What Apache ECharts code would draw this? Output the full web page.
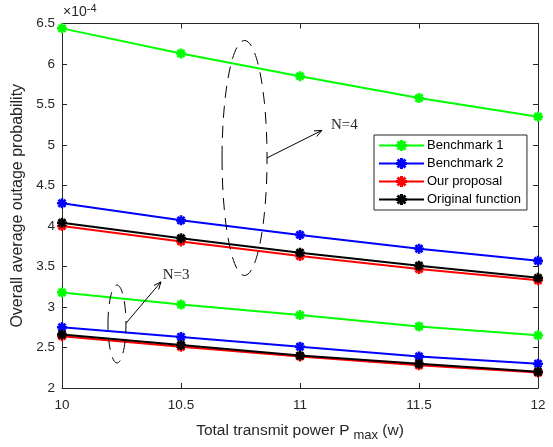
<!DOCTYPE html>
<html>
<head>
<meta charset="utf-8">
<script src="https://cdn.jsdelivr.net/npm/echarts@6/dist/echarts.min.js"></script>
<style>
  html, body { margin: 0; padding: 0; background: #fff; }
  #chart { width: 553px; height: 447px; }
</style>
</head>
<body>
<div id="chart"></div>
<script>
// Transmit power levels (W)
const powerLevels = [10, 10.5, 11, 11.5, 12];

// Outage probability, in units of 1e-4
const bench1N4   = [6.44, 6.13, 5.85, 5.58, 5.35];
const bench2N4   = [4.28, 4.07, 3.89, 3.72, 3.57];
const proposalN4 = [4.00, 3.81, 3.63, 3.47, 3.33];
const originalN4 = [4.04, 3.85, 3.67, 3.51, 3.36];

const bench1N3   = [3.18, 3.03, 2.90, 2.76, 2.65];
const bench2N3   = [2.75, 2.63, 2.51, 2.39, 2.30];
const proposalN3 = [2.64, 2.51, 2.39, 2.28, 2.19];
const originalN3 = [2.66, 2.53, 2.40, 2.30, 2.20];

const seriesNames = ['Benchmark 1', 'Benchmark 2', 'Our proposal', 'Original function'];
const seriesColors = ['#00ff00', '#0000ff', '#ff0000', '#000000'];

// Asterisk-shaped marker: four filled bars, all wound the same way
const asterisk = 'path://' +
  'M-5,-1.3L5,-1.3L5,1.3L-5,1.3Z' +
  'M-1.3,-5L1.3,-5L1.3,5L-1.3,5Z' +
  'M-4.455,-2.617L-2.617,-4.455L4.455,2.617L2.617,4.455Z' +
  'M-2.617,4.455L-4.455,2.617L2.617,-4.455L4.455,-2.617Z';

const textColor = '#262626';
const axisFont = 'Liberation Sans, Arial, Helvetica, sans-serif';
const serifFont = 'Liberation Serif, Times New Roman, serif';

function pairs(values) {
  return powerLevels.map((x, i) => [x, values[i]]);
}

function makeSeries(name, color, values) {
  return {
    name: name,
    type: 'line',
    data: pairs(values),
    symbol: asterisk,
    symbolSize: 10,
    showSymbol: true,
    lineStyle: { color: color, width: 2 },
    itemStyle: { color: color },
    emphasis: { disabled: true },
    animation: false,
    z: 3
  };
}

const groups = [
  [bench1N4, bench1N3],
  [bench2N4, bench2N3],
  [proposalN4, proposalN3],
  [originalN4, originalN3]
];

const series = [];
groups.forEach((g, k) => {
  series.push(makeSeries(seriesNames[k], seriesColors[k], g[0]));
  series.push(makeSeries(seriesNames[k], seriesColors[k], g[1]));
});

const axisLineStyle = { lineStyle: { color: textColor, width: 1 } };

const chart = echarts.init(document.getElementById('chart'), null, { renderer: 'canvas' });

chart.setOption({
  animation: false,
  backgroundColor: '#fff',
  grid: { left: 62, right: 15, top: 23.5, bottom: 53, containLabel: false },
  xAxis: [
    {
      type: 'value', min: 10, max: 12, interval: 0.5, position: 'bottom',
      axisLine: axisLineStyle,
      axisTick: { show: true, inside: true, length: 5, lineStyle: { color: textColor } },
      axisLabel: { color: textColor, fontSize: 13.5, fontFamily: axisFont, margin: 10 },
      splitLine: { show: false },
      name: 'Total transmit power P{sub|max} (w)',
      nameLocation: 'middle', nameGap: 31,
      nameTextStyle: {
        color: textColor, fontSize: 15.5, fontFamily: axisFont,
        rich: { sub: { fontSize: 13, fontFamily: axisFont, color: textColor, padding: [10, 0, 0, 4] } }
      }
    },
    {
      type: 'value', min: 10, max: 12, interval: 0.5, position: 'top',
      axisLine: axisLineStyle,
      axisTick: { show: true, inside: true, length: 5, lineStyle: { color: textColor } },
      axisLabel: { show: false }, splitLine: { show: false }
    }
  ],
  yAxis: [
    {
      type: 'value', min: 2, max: 6.5, interval: 0.5, position: 'left',
      axisLine: axisLineStyle,
      axisTick: { show: true, inside: true, length: 5, lineStyle: { color: textColor } },
      axisLabel: { color: textColor, fontSize: 13.5, fontFamily: axisFont, margin: 7 },
      splitLine: { show: false },
      name: 'Overall average outage probability',
      nameLocation: 'middle', nameGap: 34,
      nameTextStyle: { color: textColor, fontSize: 16, fontFamily: axisFont }
    },
    {
      type: 'value', min: 2, max: 6.5, interval: 0.5, position: 'right',
      axisLine: axisLineStyle,
      axisTick: { show: true, inside: true, length: 5, lineStyle: { color: textColor } },
      axisLabel: { show: false }, splitLine: { show: false }
    }
  ],
  legend: {
    data: seriesNames,
    orient: 'vertical',
    left: 374, top: 135,
    itemWidth: 45, itemHeight: 14, itemGap: 5,
    padding: [4, 6, 4, 4],
    backgroundColor: '#fff',
    borderColor: textColor, borderWidth: 1, borderRadius: 0,
    textStyle: { color: '#000', fontSize: 13, fontFamily: axisFont, padding: [0, 0, 0, -2] },
    selectedMode: false
  },
  series: series
});

// Annotations anchored in data coordinates
const ellipses = [
  { center: [10.767, 4.84], rx: 22.5, ry: 117.5 },
  { center: [10.231, 2.79], rx: 9, ry: 39 }
];
const arrows = [
  { from: [10.861, 4.84], to: [11.092, 5.18], label: 'N=4', labelAt: [11.13, 5.24] },
  { from: [10.269, 2.80], to: [10.416, 3.31], label: 'N=3', labelAt: [10.423, 3.39] }
];

function px(p) { return chart.convertToPixel({ gridIndex: 0 }, p); }

const graphics = [];

// Exponent label above the y axis
graphics.push({
  type: 'text', left: 63, top: 3,
  style: {
    text: '×10{sup|-4}',
    fill: textColor, fontSize: 14, fontFamily: axisFont,
    rich: { sup: { fontSize: 11, fontFamily: axisFont, fill: textColor, padding: [0, 0, 8, 0] } }
  },
  z: 10
});

ellipses.forEach(e => {
  const c = px(e.center);
  graphics.push({
    type: 'ellipse',
    shape: { cx: c[0], cy: c[1], rx: e.rx, ry: e.ry },
    style: { fill: null, stroke: '#000', lineWidth: 1, lineDash: [12, 8] },
    z: 10
  });
});

arrows.forEach(a => {
  const p0 = px(a.from), p1 = px(a.to);
  const ang = Math.atan2(p1[1] - p0[1], p1[0] - p0[0]);
  const hl = 8, spread = 0.4;
  const h1 = [p1[0] - hl * Math.cos(ang - spread), p1[1] - hl * Math.sin(ang - spread)];
  const h2 = [p1[0] - hl * Math.cos(ang + spread), p1[1] - hl * Math.sin(ang + spread)];
  graphics.push({
    type: 'line',
    shape: { x1: p0[0], y1: p0[1], x2: p1[0], y2: p1[1] },
    style: { stroke: '#000', lineWidth: 1 }, z: 10
  });
  graphics.push({
    type: 'polyline',
    shape: { points: [h1, p1, h2] },
    style: { stroke: '#000', lineWidth: 1, fill: null }, z: 10
  });
  const t = px(a.labelAt);
  graphics.push({
    type: 'text', x: t[0], y: t[1],
    style: {
      text: a.label, fill: textColor, fontSize: 15, fontFamily: serifFont,
      align: 'left', verticalAlign: 'middle'
    },
    z: 10
  });
});

chart.setOption({ graphic: graphics });
</script>
</body>
</html>
